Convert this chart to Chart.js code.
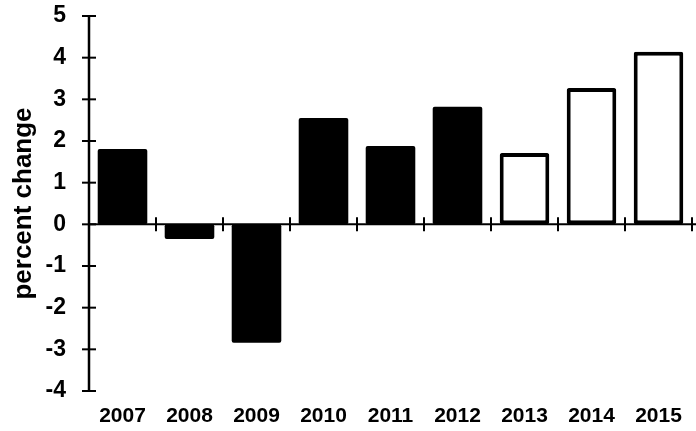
<!DOCTYPE html>
<html>
<head>
<meta charset="utf-8">
<script src="https://cdn.jsdelivr.net/npm/chart.js@4"></script>
<style>
  html, body { margin: 0; padding: 0; background: #fff; }
  #wrap { width: 696px; height: 431px; }
</style>
</head>
<body>
<div id="wrap"><canvas id="grafico"></canvas></div>
<script>
// dados
const anos = ['2007', '2008', '2009', '2010', '2011', '2012', '2013', '2014', '2015'];
const valoresReais = [1.81, -0.35, -2.84, 2.55, 1.88, 2.82, null, null, null];
const valoresPrevistos = [null, null, null, null, null, null, 1.71, 3.27, 4.14];
const ticksY = [-4, -3, -2, -1, 0, 1, 2, 3, 4, 5];

Chart.defaults.font.family = '"Liberation Sans", Arial, sans-serif';
Chart.defaults.color = '#000';

// desenha os eixos como na figura original (linha do zero com marcas cruzadas)
const eixos = {
    id: 'eixos',
    afterDatasetsDraw(chart) {
        const { ctx, chartArea, scales: { x, y } } = chart;
        const zero = y.getPixelForValue(0);
        ctx.save();
        ctx.strokeStyle = '#000';

        // eixo y
        ctx.lineWidth = 2.5;
        ctx.beginPath();
        ctx.moveTo(chartArea.left, chartArea.top);
        ctx.lineTo(chartArea.left, chartArea.bottom);
        ctx.stroke();

        ctx.lineWidth = 2;
        ticksY.forEach(v => {
            const py = y.getPixelForValue(v);
            ctx.beginPath();
            ctx.moveTo(chartArea.left - 7, py);
            ctx.lineTo(chartArea.left + 7, py);
            ctx.stroke();
        });

        // linha do zero
        ctx.beginPath();
        ctx.moveTo(chartArea.left, zero);
        ctx.lineTo(chart.width, zero);
        ctx.stroke();

        // marcas entre as categorias
        const meio = (x.getPixelForValue(1) - x.getPixelForValue(0)) / 2;
        anos.forEach((a, i) => {
            const px = x.getPixelForValue(i) + meio;
            ctx.beginPath();
            ctx.moveTo(px, zero - 7);
            ctx.lineTo(px, zero + 7);
            ctx.stroke();
        });
        ctx.restore();
    }
};

new Chart(document.getElementById('grafico'), {
    type: 'bar',
    data: {
        labels: anos,
        datasets: [{
            label: 'real',
            data: valoresReais,
            backgroundColor: '#000',
            borderColor: '#000',
            borderWidth: 0,
            borderRadius: 2,
            borderSkipped: false
        }, {
            label: 'previsto',
            data: valoresPrevistos,
            backgroundColor: '#fff',
            borderColor: '#000',
            borderWidth: 4,
            borderRadius: 2,
            borderSkipped: false
        }]
    },
    options: {
        responsive: true,
        maintainAspectRatio: false,
        animation: false,
        layout: { autoPadding: false, padding: { top: 16, right: 4, left: 0, bottom: 0 } },
        datasets: {
            bar: { grouped: false, categoryPercentage: 1, barPercentage: 0.74 }
        },
        plugins: {
            legend: { display: false },
            tooltip: { enabled: false }
        },
        scales: {
            x: {
                grid: { display: false, drawTicks: false },
                border: { display: false },
                ticks: {
                    padding: 13,
                    font: { size: 21, weight: 'bold' },
                    maxRotation: 0
                },
                afterFit(scale) {
                    scale.height = 40;
                    scale.paddingLeft = 0;
                    scale.paddingRight = 0;
                    scale.paddingTop = 0;
                    scale.paddingBottom = 0;
                }
            },
            y: {
                min: -4,
                max: 5,
                grid: { display: false, drawTicks: false },
                border: { display: false },
                afterBuildTicks(scale) {
                    scale.ticks = ticksY.map(v => ({ value: v }));
                },
                ticks: {
                    padding: 23,
                    font: { size: 23, weight: 'bold' }
                },
                title: {
                    display: true,
                    text: 'percent change',
                    font: { size: 26, weight: 'bold' },
                    padding: { top: 8, bottom: 0 }
                },
                afterFit(scale) {
                    scale.width = 89;
                    scale.paddingTop = 0;
                    scale.paddingBottom = 0;
                }
            }
        }
    },
    plugins: [eixos]
});
</script>
</body>
</html>
